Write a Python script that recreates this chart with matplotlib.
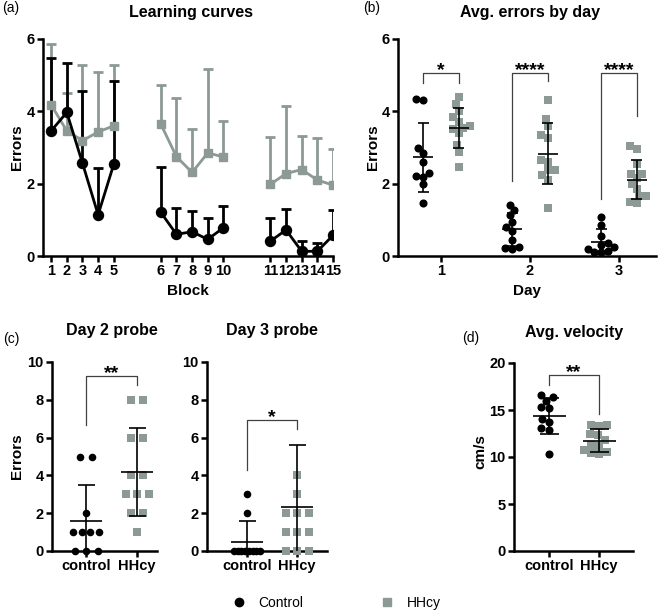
import numpy as np
import matplotlib
matplotlib.use("Agg")
import matplotlib.pyplot as plt
from matplotlib.lines import Line2D

plt.rcParams["font.family"] = ["Liberation Sans", "DejaVu Sans"]
plt.rcParams["font.weight"] = "bold"
plt.rcParams["axes.labelweight"] = "bold"

GREY = "#8c9995"

# (a) learning curves: mean and upper SD per block
blocks = [str(i) for i in range(1, 16)]
curve_ctrl_mean = [3.46, 3.97, 2.57, 1.14, 2.54, 1.21, 0.60, 0.67, 0.46, 0.78, 0.41, 0.72, 0.13, 0.13, 0.57]
curve_ctrl_sd = [2.02, 1.37, 2.00, 1.29, 2.29, 1.26, 0.72, 0.57, 0.60, 0.60, 0.65, 0.59, 0.29, 0.23, 0.69]
curve_hhcy_mean = [4.18, 3.46, 3.19, 3.43, 3.60, 3.65, 2.75, 2.31, 2.85, 2.74, 1.98, 2.28, 2.39, 2.10, 1.96]
curve_hhcy_sd = [1.69, 1.06, 2.09, 1.65, 1.68, 1.07, 1.62, 1.21, 2.32, 1.00, 1.32, 1.86, 0.92, 1.17, 1.01]

# (b) average errors per animal by day
days = ["1", "2", "3"]
day_ctrl = [
    [4.31, 4.34, 2.99, 2.85, 2.60, 2.30, 2.22, 2.19, 1.98, 1.46],
    [1.41, 1.27, 1.13, 0.95, 0.81, 0.70, 0.45, 0.26, 0.21, 0.18],
    [1.09, 0.87, 0.54, 0.35, 0.30, 0.25, 0.20, 0.15, 0.10, 0.10],
]
day_hhcy = [
    [4.39, 4.20, 4.02, 3.83, 3.71, 3.60, 3.55, 3.50, 3.40, 3.06, 2.87, 2.46],
    [4.31, 3.78, 3.59, 3.34, 3.27, 2.66, 2.60, 2.39, 2.39, 2.23, 2.11, 1.33],
    [3.05, 2.97, 2.55, 2.28, 2.26, 2.15, 2.00, 1.85, 1.65, 1.65, 1.50, 1.47],
]
day_stars = ["*", "****", "****"]

# (c) probe trials
groups = ["control", "HHcy"]
probe2_ctrl = [5, 5, 2, 1, 1, 1, 1, 0, 0, 0]
probe2_hhcy = [8, 8, 6, 6, 4, 4, 3, 3, 3, 2, 2, 1]
probe3_ctrl = [3, 2, 0, 0, 0, 0, 0, 0, 0, 0]
probe3_hhcy = [12, 4, 3, 2, 2, 2, 1, 1, 1, 0, 0, 0]

# (d) average velocity
vel_ctrl = [16.64, 16.35, 16.0, 15.29, 15.22, 14.05, 13.75, 13.1, 12.85, 10.37]
vel_hhcy = [13.4, 13.3, 13.4, 12.4, 12.3, 11.8, 11.3, 11.2, 10.7, 10.5, 10.4, 10.3]

W, H = 660, 610
fig = plt.figure(figsize=(W / 100, H / 100), dpi=100)


def box(x0, y0, x1, y1):
    return [x0 / W, 1 - y1 / H, (x1 - x0) / W, (y1 - y0) / H]


def txt(x, y, s, **kw):
    fig.text(x / W, 1 - y / H, s, ha=kw.pop("ha", "center"), va=kw.pop("va", "center"), **kw)


def style(ax):
    for s in ["top", "right"]:
        ax.spines[s].set_visible(False)
    for s in ["left", "bottom"]:
        ax.spines[s].set_linewidth(1.8)
    ax.tick_params(width=1.8, length=4, labelsize=10.5, pad=2)


def ppu(ax):
    return ax.transData.transform((1, 0))[0] - ax.transData.transform((0, 0))[0]


def swarm_x(ax, xc, vals, d=7.0):
    vals = np.asarray(vals, float)
    ys = ax.transData.transform(np.column_stack([np.full(len(vals), xc), vals]))[:, 1]
    offs = np.zeros(len(vals))
    placed = []
    for i in np.argsort(ys):
        cands = [0.0]
        for px, py in placed:
            dy = abs(ys[i] - py)
            if dy < d:
                dx = np.sqrt(d * d - dy * dy)
                cands += [px - dx, px + dx]
        ok = [c for c in cands
              if all((c - px) ** 2 + (ys[i] - py) ** 2 >= d * d - 1e-6 for px, py in placed)]
        best = min(ok, key=lambda c: (abs(c), c))
        offs[i] = best
        placed.append((best, ys[i]))
    return xc + offs / ppu(ax)


def rows_x(ax, xc, vals, step=11.5, maxw=26):
    vals = np.asarray(vals)
    xs = np.full(len(vals), float(xc))
    for v in np.unique(vals):
        idx = np.where(vals == v)[0]
        k = len(idx)
        if k > 1:
            s = min(step, maxw / (k - 1))
            xs[idx] = xc + (np.arange(k) - (k - 1) / 2) * s / ppu(ax)
    return xs


def mean_sd(ax, xc, vals, hw_mean, hw_cap, lw=1.2):
    vals = np.asarray(vals, float)
    m, s = vals.mean(), vals.std(ddof=1)
    k = ppu(ax)
    y0 = ax.get_ylim()[0]
    ax.hlines(m, xc - hw_mean / k, xc + hw_mean / k, color="k", lw=lw, zorder=4)
    ax.vlines(xc, max(m - s, y0), m + s, color="k", lw=lw, zorder=4)
    ax.hlines(m + s, xc - hw_cap / k, xc + hw_cap / k, color="k", lw=lw, zorder=4)
    if m - s >= y0:
        ax.hlines(m - s, xc - hw_cap / k, xc + hw_cap / k, color="k", lw=lw, zorder=4)


def bracket(ax, x1, x2, top, y1, y2, stars):
    ax.plot([x1, x1, x2, x2], [y1, top, top, y2], color="#404040", lw=0.9, clip_on=False, zorder=2)
    ax.annotate(stars, ((x1 + x2) / 2, top), xytext=(0, -1.5), textcoords="offset points",
                ha="center", va="baseline", fontsize=14, fontweight="bold")


def dots(ax, xs, vals, marker, color, size, ymax):
    vals = np.asarray(vals, float)
    keep = vals <= ymax
    ax.scatter(np.asarray(xs)[keep], vals[keep], marker=marker, s=size, color=color,
               linewidths=0, zorder=3, clip_on=False)


# ---------- (a) ----------
ax = fig.add_axes(box(43, 39, 333, 256))
style(ax)
pos = np.array([i + 2 * (i // 5) + 1 for i in range(15)], float)
ax.set_xlim(0.48, 17.17)
ax.set_ylim(0, 6)
for mean, sd, col, mk, ms in [(curve_hhcy_mean, curve_hhcy_sd, GREY, "s", 6.2),
                              (curve_ctrl_mean, curve_ctrl_sd, "k", "o", 7.2)]:
    mean, sd = np.array(mean), np.array(sd)
    ax.vlines(pos, mean, mean + sd, color=col, lw=2.0, zorder=2)
    ax.plot(pos, mean + sd, ls="", marker="_", ms=7.5, mew=2.0, color=col, zorder=2)
    for g in range(3):
        sl = slice(5 * g, 5 * g + 5)
        ax.plot(pos[sl], mean[sl], color=col, lw=2.0, marker=mk, ms=ms, zorder=3)
ax.set_xticks(pos)
ax.set_xticklabels(blocks)
ax.set_yticks([0, 2, 4, 6])
txt(191, 12, "Learning curves", fontsize=11.5, fontweight="bold")
txt(2, 8, "(a)", ha="left", fontsize=10, fontweight="normal")
txt(188, 291, "Block", fontsize=11, fontweight="bold")
txt(17, 147, "Errors", rotation=90, fontsize=11, fontweight="bold")

# ---------- (b) ----------
ax = fig.add_axes(box(398, 39, 656, 256))
style(ax)
ax.set_xlim(0.517, 3.416)
ax.set_ylim(0, 6)
ax.set_xticks([1, 2, 3])
ax.set_xticklabels(days)
ax.set_yticks([0, 2, 4, 6])
brk = [(4.79, 4.79), (2.06, 4.83), (1.57, 3.86)]
for i in range(3):
    xc, xh = i + 1 - 0.2, i + 1 + 0.2
    dots(ax, swarm_x(ax, xc, day_ctrl[i]), day_ctrl[i], "o", "k", 34, 6)
    dots(ax, swarm_x(ax, xh, day_hhcy[i]), day_hhcy[i], "s", GREY, 30, 6)
    mean_sd(ax, xc, day_ctrl[i], 10, 5.5)
    mean_sd(ax, xh, day_hhcy[i], 10, 5.5)
    bracket(ax, xc, xh, 5.06, brk[i][0], brk[i][1], day_stars[i])
txt(530, 12, "Avg. errors by day", fontsize=11.5, fontweight="bold")
txt(363, 8, "(b)", ha="left", fontsize=10, fontweight="normal")
txt(527, 291, "Day", fontsize=11, fontweight="bold")
txt(373, 147, "Errors", rotation=90, fontsize=11, fontweight="bold")

# ---------- (c) ----------
probe_axes = [
    (box(52, 362, 157, 551), (-0.667, 1.39), probe2_ctrl, probe2_hhcy, (9.24, 6.65, 8.8), "**",
     112, "Day 2 probe"),
    (box(207, 362, 327, 551), (-0.8, 1.6), probe3_ctrl, probe3_hhcy, (6.92, 4.28, 6.48), "*",
     272, "Day 3 probe"),
]
for rect, xl, pc, ph, (top, l1, l2), st, tx, title in probe_axes:
    ax = fig.add_axes(rect)
    style(ax)
    ax.set_xlim(*xl)
    ax.set_ylim(0, 10)
    ax.set_xticks([0, 1])
    ax.set_xticklabels(groups)
    ax.set_yticks([0, 2, 4, 6, 8, 10])
    dots(ax, rows_x(ax, 0, pc), pc, "o", "k", 30, 10)
    dots(ax, rows_x(ax, 1, ph), ph, "s", GREY, 38, 10)
    mean_sd(ax, 0, pc, 16, 8.5)
    mean_sd(ax, 1, ph, 16, 8.5)
    bracket(ax, 0, 1, top, l1, l2, st)
    txt(tx, 331, title, fontsize=11.5, fontweight="bold")
txt(3, 339, "(c)", ha="left", fontsize=10, fontweight="normal")
txt(17, 456, "Errors", rotation=90, fontsize=11, fontweight="bold")

# ---------- (d) ----------
ax = fig.add_axes(box(514, 363, 633, 551))
style(ax)
ax.set_xlim(-0.7, 1.68)
ax.set_ylim(0, 20)
ax.set_xticks([0, 1])
ax.set_xticklabels(groups)
ax.set_yticks([0, 5, 10, 15, 20])
dots(ax, swarm_x(ax, 0, vel_ctrl, 8.0), vel_ctrl, "o", "k", 34, 20)
dots(ax, swarm_x(ax, 1, vel_hhcy, 8.0), vel_hhcy, "s", GREY, 34, 20)
mean_sd(ax, 0, vel_ctrl, 16.5, 9.5)
mean_sd(ax, 1, vel_hhcy, 16.5, 9.5)
bracket(ax, 0, 1, 18.76, 17.7, 14.6, "**")
txt(574, 333, "Avg. velocity", fontsize=11.5, fontweight="bold")
txt(462, 338, "(d)", ha="left", fontsize=10, fontweight="normal")
txt(480, 452, "cm/s", rotation=90, fontsize=11, fontweight="bold")

# ---------- legend ----------
handles = [Line2D([], [], ls="", marker="o", color="k", ms=6),
           Line2D([], [], ls="", marker="s", color=GREY, ms=5.5)]
fig.legend(handles, ["Control", "HHcy"], loc="center", bbox_to_anchor=(337 / W, 1 - 603 / H),
           ncol=2, frameon=False, prop={"weight": "normal", "size": 10},
           handlelength=0.8, handletextpad=1.0, columnspacing=5.6)

fig.savefig("out.png", dpi=100)
